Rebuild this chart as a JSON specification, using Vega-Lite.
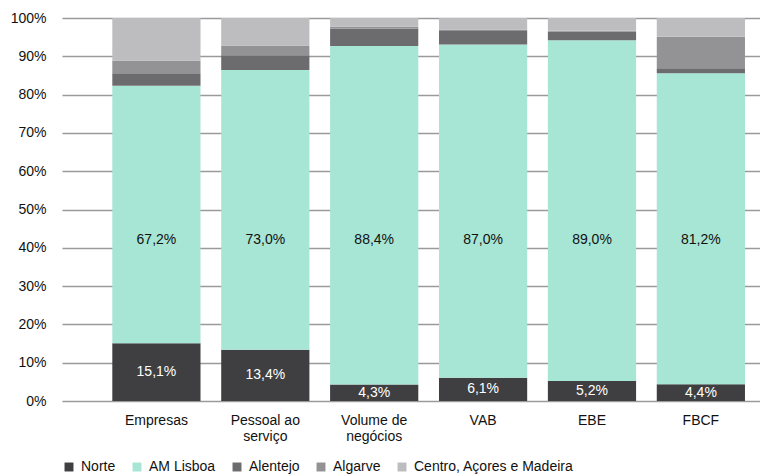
{
  "$schema": "https://vega.github.io/schema/vega-lite/v6.json",
  "width": 698,
  "height": 383,
  "autosize": {"type": "none"},
  "padding": {"left": 62, "top": 18, "right": 0, "bottom": 75},
  "background": "white",
  "config": {
    "view": {"stroke": null},
    "font": "Liberation Sans",
    "axis": {"labelFont": "Liberation Sans", "labelColor": "#111111"},
    "legend": {"labelFont": "Liberation Sans"}
  },
  "data": {
    "values": [
      {"indicator": "Empresas", "region": "Norte", "value": 15.1},
      {"indicator": "Empresas", "region": "AM Lisboa", "value": 67.2},
      {"indicator": "Empresas", "region": "Alentejo", "value": 3.3},
      {"indicator": "Empresas", "region": "Algarve", "value": 3.3},
      {"indicator": "Empresas", "region": "Centro, Açores e Madeira", "value": 11.1},
      {"indicator": "Pessoal ao serviço", "region": "Norte", "value": 13.4},
      {"indicator": "Pessoal ao serviço", "region": "AM Lisboa", "value": 73.0},
      {"indicator": "Pessoal ao serviço", "region": "Alentejo", "value": 3.9},
      {"indicator": "Pessoal ao serviço", "region": "Algarve", "value": 2.5},
      {"indicator": "Pessoal ao serviço", "region": "Centro, Açores e Madeira", "value": 7.2},
      {"indicator": "Volume de negócios", "region": "Norte", "value": 4.3},
      {"indicator": "Volume de negócios", "region": "AM Lisboa", "value": 88.4},
      {"indicator": "Volume de negócios", "region": "Alentejo", "value": 4.5},
      {"indicator": "Volume de negócios", "region": "Algarve", "value": 0.5},
      {"indicator": "Volume de negócios", "region": "Centro, Açores e Madeira", "value": 2.3},
      {"indicator": "VAB", "region": "Norte", "value": 6.1},
      {"indicator": "VAB", "region": "AM Lisboa", "value": 87.0},
      {"indicator": "VAB", "region": "Alentejo", "value": 3.5},
      {"indicator": "VAB", "region": "Algarve", "value": 0.4},
      {"indicator": "VAB", "region": "Centro, Açores e Madeira", "value": 3.0},
      {"indicator": "EBE", "region": "Norte", "value": 5.2},
      {"indicator": "EBE", "region": "AM Lisboa", "value": 89.0},
      {"indicator": "EBE", "region": "Alentejo", "value": 2.2},
      {"indicator": "EBE", "region": "Algarve", "value": 0.3},
      {"indicator": "EBE", "region": "Centro, Açores e Madeira", "value": 3.3},
      {"indicator": "FBCF", "region": "Norte", "value": 4.4},
      {"indicator": "FBCF", "region": "AM Lisboa", "value": 81.2},
      {"indicator": "FBCF", "region": "Alentejo", "value": 1.3},
      {"indicator": "FBCF", "region": "Algarve", "value": 8.2},
      {"indicator": "FBCF", "region": "Centro, Açores e Madeira", "value": 4.9}
    ]
  },
  "encoding": {
    "x": {
      "field": "indicator",
      "type": "nominal",
      "sort": null,
      "scale": {"paddingInner": 0.19, "paddingOuter": 0.3, "align": 0.77},
      "axis": {
        "title": null,
        "labelAngle": 0,
        "labelFontSize": 14,
        "labelPadding": 12,
        "ticks": false,
        "domain": false,
        "labelExpr": "datum.value == 'Pessoal ao serviço' ? ['Pessoal ao', 'serviço'] : datum.value == 'Volume de negócios' ? ['Volume de', 'negócios'] : datum.value",
        "labelLineHeight": 16
      }
    }
  },
  "layer": [
    {
      "transform": [
        {"calculate": "indexof(['Norte', 'AM Lisboa', 'Alentejo', 'Algarve', 'Centro, Açores e Madeira'], datum.region)", "as": "stackOrder"}
      ],
      "mark": {"type": "bar"},
      "encoding": {
        "y": {
          "field": "value",
          "type": "quantitative",
          "stack": "zero",
          "scale": {"domain": [0, 100], "nice": false},
          "axis": {
            "title": null,
            "tickCount": 12,
            "labelExpr": "datum.value + '%'",
            "labelOverlap": false,
            "labelFontSize": 14,
            "labelPadding": 16,
            "ticks": false,
            "domain": false,
            "grid": true,
            "gridColor": "#9a9a9a",
            "gridWidth": 1.5
          }
        },
        "order": {"field": "stackOrder", "type": "quantitative", "sort": "ascending"},
        "color": {
          "field": "region",
          "type": "nominal",
          "sort": ["Norte", "AM Lisboa", "Alentejo", "Algarve", "Centro, Açores e Madeira"],
          "scale": {
            "domain": ["Norte", "AM Lisboa", "Alentejo", "Algarve", "Centro, Açores e Madeira"],
            "range": ["#3f3f41", "#a7e5d4", "#6c6c6f", "#939396", "#bdbdbf"]
          },
          "legend": {
            "title": null,
            "orient": "bottom",
            "direction": "horizontal",
            "symbolType": "square",
            "symbolSize": 80,
            "symbolStrokeWidth": 0,
            "labelFontSize": 14,
            "labelColor": "#111111",
            "labelOffset": 5,
            "columnPadding": 14,
            "offset": 17
          }
        }
      }
    },
    {
      "transform": [
        {"filter": "datum.region == 'Norte'"},
        {"calculate": "datum.value / 2", "as": "mid"},
        {"calculate": "replace(format(datum.value, '.1f'), '.', ',') + '%'", "as": "label"}
      ],
      "mark": {"type": "text", "color": "white", "fontSize": 14, "baseline": "middle", "align": "center"},
      "encoding": {
        "y": {"field": "mid", "type": "quantitative"},
        "text": {"field": "label"}
      }
    },
    {
      "transform": [
        {"filter": "datum.region == 'AM Lisboa'"},
        {"calculate": "replace(format(datum.value, '.1f'), '.', ',') + '%'", "as": "label"}
      ],
      "mark": {"type": "text", "color": "#111111", "fontSize": 14, "baseline": "middle", "align": "center"},
      "encoding": {
        "y": {"datum": 42, "type": "quantitative"},
        "text": {"field": "label"}
      }
    }
  ]
}
